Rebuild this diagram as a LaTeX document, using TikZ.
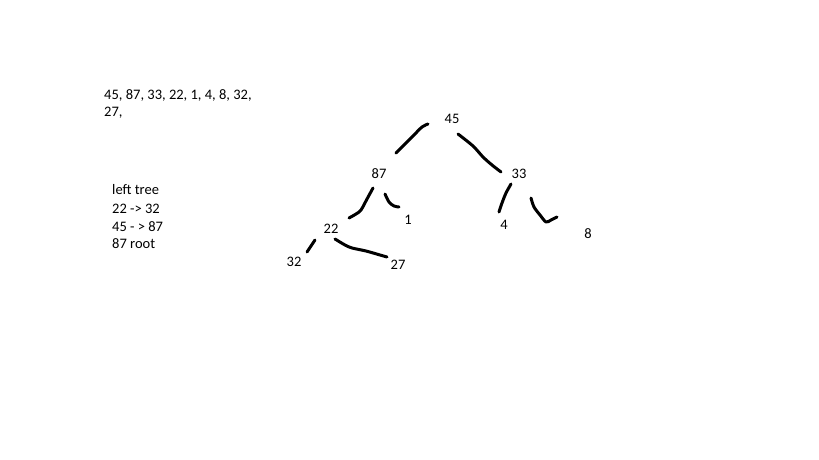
\documentclass[tikz,border=0pt]{standalone}
\usepackage{fontspec}
\setmainfont{Carlito}
\usepackage{tikz}
\usetikzlibrary{positioning}

\begin{document}
\begin{tikzpicture}[x=1pt, y=-1pt, every node/.style={font=\fontsize{14.5}{17.5}\selectfont, inner sep=0pt},
    key/.style={}, note/.style={anchor=west},
    stroke/.style={line width=3pt, line cap=round, line join=round}]
    \useasboundingbox (0,0) rectangle (819,460);

    \node (list1) [note] at (104,95) {45, 87, 33, 22, 1, 4, 8, 32,};
    \node (list2) [note] at (104,113) {27,};

    \node (left) [note] at (112,190) {left tree};
    \node (step1) [note] at (112,209) {22 -> 32};
    \node (step2) [note] at (112,227) {45 - > 87};
    \node (root) [note] at (112,244) {87 root};

    \node (k45) [key] at (452,119) {45};
    \node (k87) [key] at (379,174) {87};
    \node (k33) [key] at (519,174) {33};
    \node (k22) [key] at (331,229) {22};
    \node (k1) [key] at (408,220) {1};
    \node (k4) [key] at (504,225) {4};
    \node (k8) [key] at (588,234) {8};
    \node (k32) [key] at (294,262) {32};
    \node (k27) [key] at (398,265) {27};

    % freehand strokes
    \draw[stroke] plot[smooth] coordinates {(428,124) (422,127) (413,136) (405,144) (401,148) (396,153)};
    \draw[stroke] plot[smooth] coordinates {(458,134) (473,146) (483,157) (492,165) (501,172)};
    \draw[stroke] plot[smooth] coordinates {(373,188) (367,199) (361,210) (356,214) (349,218)};
    \draw[stroke] plot[smooth] coordinates {(385,194) (389,202) (394,206) (399,207)};
    \draw[stroke] plot[smooth] coordinates {(511,184) (506,193) (502,203) (499,212)};
    \draw[stroke] plot[smooth] coordinates {(531,198) (534,207) (540,215) (546,222) (551,220) (557,217)};
    \draw[stroke] plot[smooth] coordinates {(315,240) (311,246) (307,252)};
    \draw[stroke] plot[smooth] coordinates {(335,239) (345,245) (352,248) (366,251) (380,255) (387,257)};
\end{tikzpicture}
\end{document}
